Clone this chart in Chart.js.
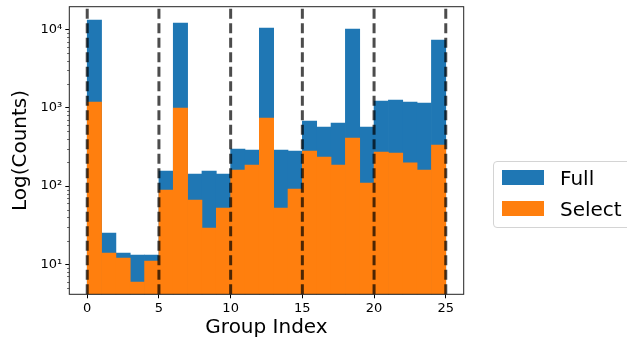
<!DOCTYPE html>
<html>
<head>
<meta charset="utf-8">
<script src="https://cdn.jsdelivr.net/npm/chart.js@4"></script>
<style>
html, body { margin: 0; padding: 0; background: #fff; overflow: hidden; }
#wrap { position: relative; width: 627px; height: 341px; }
#legend { position: absolute; left: 493px; top: 161px; width: 160px; height: 65px;
  border: 1px solid #d4d4d4; border-radius: 4px; background: rgba(255,255,255,0.8);
  font-family: "DejaVu Sans"; font-size: 20px; color: #000; }
.patch { position: absolute; left: 8px; width: 42px; height: 15px; }
.lbl { position: absolute; left: 66px; line-height: 24px; white-space: nowrap; }
</style>
</head>
<body>
<div id="wrap">
  <canvas id="chart" width="627" height="341"></canvas>
  <div id="legend">
    <div class="patch" style="top:8px;background:#1f77b4"></div>
    <div class="lbl" style="top:4px">Full</div>
    <div class="patch" style="top:38.7px;background:#ff7f0e"></div>
    <div class="lbl" style="top:34.7px">Select</div>
  </div>
</div>
<script>
// ---------- Data ----------
const groups = [0, 1, 2, 3, 4, 5, 6, 7, 8, 9, 10, 11, 12, 13, 14, 15, 16, 17, 18, 19, 20, 21, 22, 23, 24];
const fullCounts = [13200, 25.1, 13.9, 13.1, 13.1, 155, 12070, 142, 155, 142, 297, 288, 10420, 288, 280,
    676, 567, 638, 10120, 567, 1218, 1254, 1183, 1148, 7320];
const selectCounts = [1183, 13.9, 12.0, 5.94, 11.0, 88.9, 991, 66.2, 29.1, 52.4, 160, 185, 739, 52.4, 91.6,
    280, 235, 185, 410, 109, 272, 264, 197, 160, 334];
const xTicks = [0, 5, 10, 15, 20, 25];
const yTicks = [10, 100, 1000, 10000];
const yTickLabels = ['10¹', '10²', '10³', '10⁴'];
const dividers = [0, 5, 10, 15, 20, 25];
const yMinor = [5, 6, 7, 8, 9, 20, 30, 40, 50, 60, 70, 80, 90, 200, 300, 400, 500, 600, 700, 800, 900,
    2000, 3000, 4000, 5000, 6000, 7000, 8000, 9000];

const FONT = 'DejaVu Sans';

// ---------- Plugins ----------
const dividerLines = {
    id: 'dividerLines',
    afterDatasetsDraw(chart) {
        const { ctx, chartArea: a, scales: { x } } = chart;
        ctx.save();
        ctx.strokeStyle = 'rgba(0,0,0,0.7)';
        ctx.lineWidth = 3;
        ctx.setLineDash([10, 4.5]);
        dividers.forEach(v => {
            const px = x.getPixelForValue(v);
            ctx.beginPath();
            ctx.moveTo(px, a.bottom);
            ctx.lineTo(px, a.top);
            ctx.stroke();
        });
        ctx.restore();
    }
};

const frame = {
    id: 'frame',
    afterDraw(chart) {
        const { ctx, chartArea: a, scales: { y } } = chart;
        ctx.save();
        ctx.strokeStyle = '#000';
        ctx.lineWidth = 0.6;
        yMinor.forEach(v => {
            const py = Math.round(y.getPixelForValue(v)) + 0.5;
            ctx.beginPath();
            ctx.moveTo(a.left - 2.2, py);
            ctx.lineTo(a.left, py);
            ctx.stroke();
        });
        ctx.lineWidth = 1;
        ctx.strokeStyle = '#222';
        ctx.strokeRect(a.left, a.top, a.right - a.left, a.bottom - a.top);
        ctx.restore();
    }
};

// ---------- Chart ----------
new Chart(document.getElementById('chart'), {
    type: 'bar',
    data: {
        datasets: [
            {
                label: 'Full',
                data: groups.map((g, i) => ({ x: g + 0.5, y: fullCounts[i] })),
                backgroundColor: '#1f77b4',
                order: 2
            },
            {
                label: 'Select',
                data: groups.map((g, i) => ({ x: g + 0.5, y: selectCounts[i] })),
                backgroundColor: '#ff7f0e',
                order: 1
            }
        ]
    },
    options: {
        responsive: false,
        animation: false,
        devicePixelRatio: 1,
        layout: { padding: { left: 0, top: 6.7, right: 163.3, bottom: 0 } },
        plugins: { legend: { display: false }, tooltip: { enabled: false } },
        datasets: { bar: { barPercentage: 1, categoryPercentage: 1, grouped: false, borderWidth: 0 } },
        scales: {
            x: {
                type: 'linear', min: -1.25, max: 26.25, offset: false,
                afterBuildTicks: s => { s.ticks = xTicks.map(v => ({ value: v })); },
                afterFit: s => { s.height = 46.7; s.paddingLeft = 0; s.paddingRight = 0; },
                ticks: { color: '#000', font: { family: FONT, size: 13 }, padding: 3, maxRotation: 0, autoSkip: false },
                grid: { display: true, offset: false, drawOnChartArea: false, drawTicks: true, tickLength: 4, color: '#000', tickWidth: 1 },
                border: { display: false },
                title: { display: true, text: 'Group Index', color: '#000', font: { family: FONT, size: 20 }, padding: { top: 0, bottom: 1 } }
            },
            y: {
                type: 'logarithmic', min: 4.14, max: 19500,
                afterBuildTicks: s => { s.ticks = yTicks.map(v => ({ value: v, major: true })); },
                afterFit: s => { s.width = 69.3; s.paddingTop = 0; s.paddingBottom = 0; },
                ticks: {
                    color: '#000', font: { family: FONT, size: 13 }, padding: 3, autoSkip: false,
                    callback: (v) => yTickLabels[yTicks.indexOf(v)] ?? ''
                },
                grid: { display: true, offset: false, drawOnChartArea: false, drawTicks: true, tickLength: 4, color: '#000', tickWidth: 1 },
                border: { display: false },
                title: { display: true, text: 'Log(Counts)', color: '#000', font: { family: FONT, size: 20 }, padding: { top: 9, bottom: 0 } }
            }
        }
    },
    plugins: [dividerLines, frame]
});
</script>
</body>
</html>
